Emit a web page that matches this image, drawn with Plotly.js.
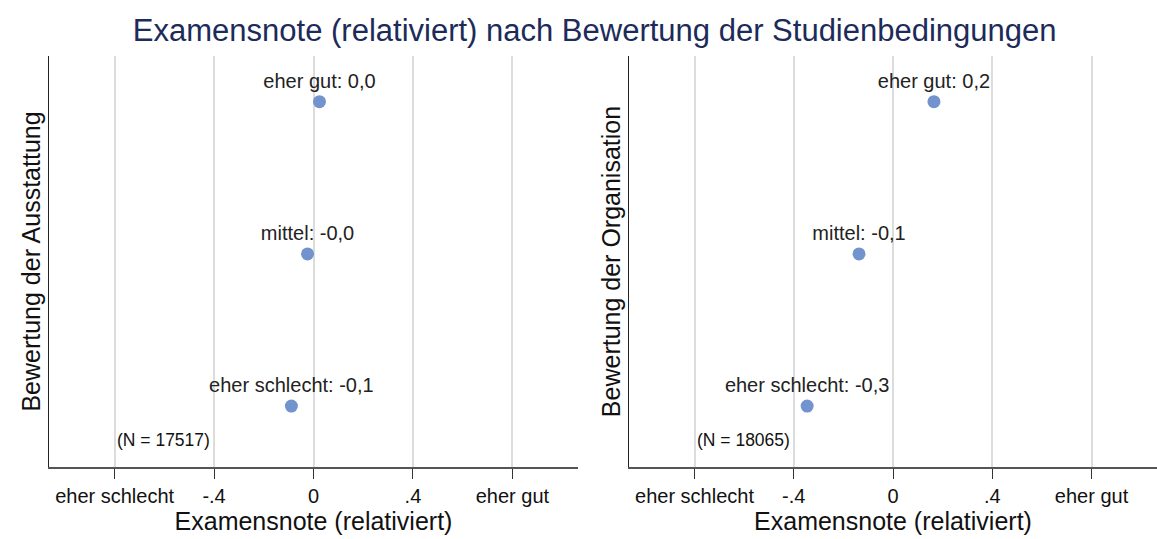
<!DOCTYPE html>
<html>
<head>
<meta charset="utf-8">
<script src="https://cdn.plot.ly/plotly-3.0.1.min.js"></script>
<style>html,body{margin:0;padding:0;background:#fff;}#chart{width:1157px;height:539px;}</style>
</head>
<body>
<div id="chart"></div>
<script>
// Data
const categories = ["eher schlecht", "mittel", "eher gut"];
const catPos = [1, 2, 3];
const ausstattungValues = [-0.089, -0.024, 0.024];
const organisationValues = [-0.346, -0.137, 0.165];
const nAusstattung = 17517;
const nOrganisation = 18065;
const tickVals = [-0.8, -0.4, 0, 0.4, 0.8];
const tickText = ["eher schlecht", "-.4", "0", ".4", "eher gut"];
const title = "Examensnote (relativiert) nach Bewertung der Studienbedingungen";
const xTitle = "Examensnote (relativiert)";
const yTitles = ["Bewertung der Ausstattung", "Bewertung der Organisation"];

function fmt(v) { return v.toFixed(1).replace('.', ','); }
function labels(vals) { return categories.map((c, i) => c + ': ' + fmt(vals[i])); }

const FONT = 'Liberation Sans, Arial, sans-serif';
const markerColor = '#7393cf';

const traces = [
  { x: ausstattungValues, y: catPos, xaxis: 'x', yaxis: 'y', type: 'scatter', mode: 'markers+text',
    text: labels(ausstattungValues), textposition: 'top center',
    textfont: { family: FONT, size: 20, color: '#222' },
    marker: { color: markerColor, size: 13 }, hoverinfo: 'none', cliponaxis: false },
  { x: organisationValues, y: catPos, xaxis: 'x2', yaxis: 'y2', type: 'scatter', mode: 'markers+text',
    text: labels(organisationValues), textposition: 'top center',
    textfont: { family: FONT, size: 20, color: '#222' },
    marker: { color: markerColor, size: 13 }, hoverinfo: 'none', cliponaxis: false }
];

const xBase = {
  range: [-1.064, 1.064], tickvals: tickVals, ticktext: tickText,
  showgrid: true, gridcolor: '#dcdcdc', gridwidth: 2, zeroline: false,
  showline: true, linecolor: '#555', linewidth: 1.5,
  ticks: 'outside', ticklen: 10, tickcolor: '#333', tickwidth: 1,
  tickfont: { family: FONT, size: 20, color: '#111' },
  title: { text: xTitle, font: { family: FONT, size: 25, color: '#111' }, standoff: 0 },
  fixedrange: true
};
const yBase = {
  range: [0.6, 3.3], showgrid: false, zeroline: false, showticklabels: false, ticks: '',
  showline: true, linecolor: '#222', linewidth: 1.5, fixedrange: true
};

const layout = {
  width: 1157, height: 539,
  margin: { l: 0, r: 0, t: 56, b: 72 },
  paper_bgcolor: '#fff', plot_bgcolor: '#fff',
  showlegend: false,
  title: { text: title, font: { family: FONT, size: 31, color: '#1c2b59' }, x: 0.514, xanchor: 'center', y: 0.944, yanchor: 'middle' },
  xaxis: Object.assign({}, xBase, { domain: [49/1157, 578/1157], anchor: 'y' }),
  xaxis2: Object.assign({}, xBase, { domain: [629/1157, 1], anchor: 'y2' }),
  yaxis: Object.assign({}, yBase, { domain: [0, 1], anchor: 'x',
    title: { text: yTitles[0], font: { family: FONT, size: 25, color: '#111' }, standoff: 0 } }),
  yaxis2: Object.assign({}, yBase, { domain: [0, 1], anchor: 'x2',
    title: { text: yTitles[1], font: { family: FONT, size: 25, color: '#111' }, standoff: 0 } }),
  annotations: [
    { xref: 'x', yref: 'y', x: tickVals[0], y: 0.78, xanchor: 'left', yanchor: 'middle', showarrow: false,
      text: '(N = ' + nAusstattung + ')', font: { family: FONT, size: 17.5, color: '#111' } },
    { xref: 'x2', yref: 'y2', x: tickVals[0], y: 0.78, xanchor: 'left', yanchor: 'middle', showarrow: false,
      text: '(N = ' + nOrganisation + ')', font: { family: FONT, size: 17.5, color: '#111' } }
  ]
};

Plotly.newPlot('chart', traces, layout, { staticPlot: true, displayModeBar: false });
</script>
</body>
</html>
